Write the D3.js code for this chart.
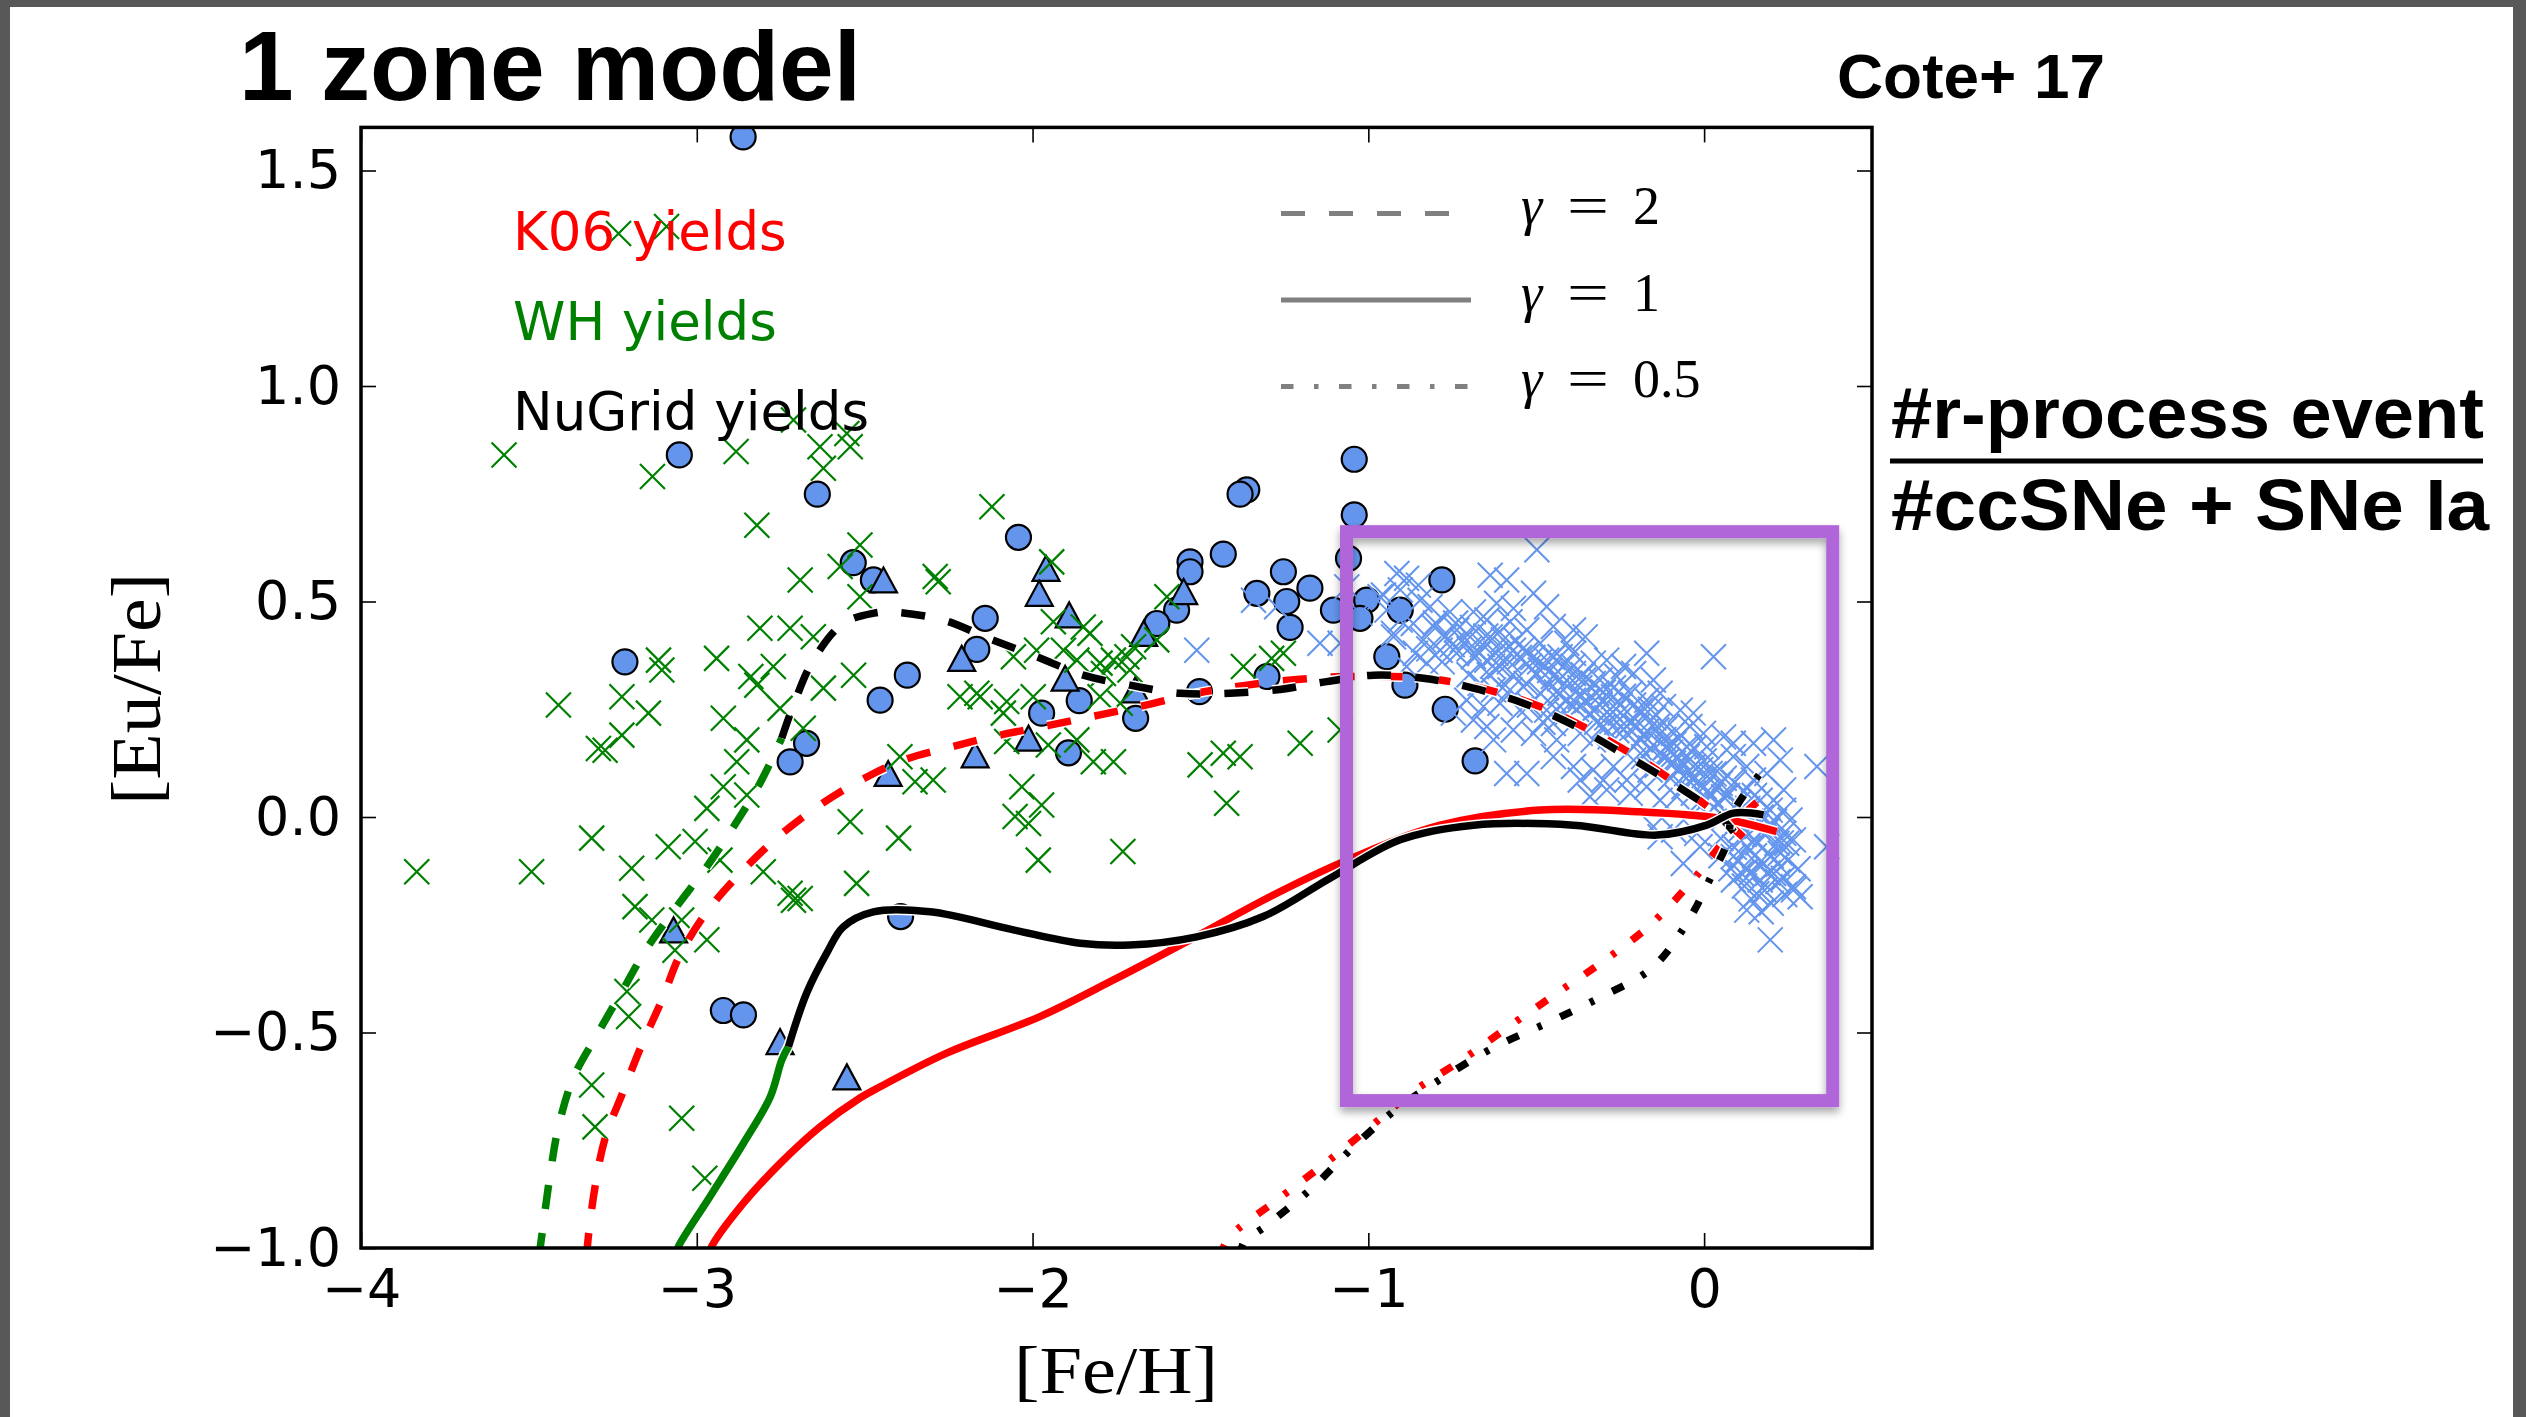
<!DOCTYPE html>
<html><head><meta charset="utf-8">
<script src="https://cdn.jsdelivr.net/npm/d3@7"></script>
<style>body{margin:0;background:#fff;} svg{display:block}</style>
</head><body>
<svg id="chart" width="2526" height="1417"></svg>
<script>
// ---------------- DATA ----------------
const xDomain = [-4, 0.5];
const yDomain = [-1, 1.6];
const xTicks = [-4, -3, -2, -1, 0];
const yTicks = [-1, -0.5, 0, 0.5, 1, 1.5];

// observational data: [Fe/H], [Eu/Fe]
const greenStars = [
 [-3.574,0.84],[-3.132,0.79],[-2.883,0.848],[-2.712,0.921],[-2.633,0.859],[-2.623,0.809],[-2.543,0.859],[-2.553,0.89],
 [-2.821,0.677],[-2.514,0.631],[-2.573,0.581],[-2.692,0.55],[-2.514,0.511],[-2.812,0.438],[-2.722,0.438],[-2.653,0.418],
 [-3.114,0.364],[-3.104,0.341],[-2.941,0.368],[-2.772,0.349],[-2.839,0.326],[-2.821,0.306],[-2.533,0.329],[-2.623,0.299],
 [-3.412,0.26],[-3.223,0.279],[-3.144,0.241],[-2.921,0.229],[-2.752,0.252],[-3.223,0.19],[-3.293,0.159],[-3.273,0.155],
 [-2.851,0.179],[-2.881,0.128],[-2.683,0.206],[-2.921,0.07],[-2.97,0.02],[-2.851,0.051],[-3.313,-0.049],[-3.085,-0.069],
 [-3.005,-0.057],[-2.931,-0.1],[-2.543,-0.011],[-3.834,-0.127],[-3.492,-0.127],[-3.194,-0.119],[-2.802,-0.127],[-2.524,-0.154],
 [-2.722,-0.177],[-2.712,-0.193],[-2.692,-0.189],[-3.184,-0.208],[-3.134,-0.239],[-3.045,-0.239],[-2.97,-0.285],[-3.065,-0.309],
 [-3.208,-0.405],[-3.203,-0.463],[-3.313,-0.622],[-3.303,-0.719],[-3.045,-0.699],[-2.976,-0.838],[-3.233,1.354],[-3.09,1.37],
 [-2.121,0.72],[-2.29,0.558],[-2.281,0.546],[-1.943,0.592],[-1.938,0.453],[-1.849,0.441],[-1.829,0.426],[-2.057,0.372],
 [-1.908,0.387],[-1.868,0.364],[-1.799,0.357],[-1.759,0.364],[-1.719,0.372],[-1.63,0.411],[-1.6,0.511],[-1.789,0.333],
 [-1.71,0.341],[-2.166,0.287],[-2.156,0.279],[-2.077,0.268],[-1.998,0.279],[-2.087,0.241],[-1.799,0.279],[-1.739,0.264],
 [-1.868,0.179],[-1.953,0.167],[-2.077,0.175],[-2.395,0.14],[-2.35,0.082],[-2.296,0.086],[-1.819,0.128],[-1.759,0.128],
 [-2.032,0.07],[-1.973,0.028],[-2.052,0.001],[-2.012,-0.015],[-2.399,-0.049],[-1.983,-0.1],[-1.731,-0.08],[-1.501,0.121],
 [-1.432,0.148],[-1.382,0.14],[-1.422,0.032],[-1.372,0.349],[-1.288,0.368],[-1.253,0.38],[-1.203,0.171],[-1.084,0.202],
 [-1.699,0.395],[-1.988,0.387],[-2.216,0.279]
];
const blueCircles = [
 [-2.862,1.578],[-3.052,0.84],[-2.641,0.749],[-2.534,0.59],[-2.474,0.55],[-3.214,0.36],[-2.454,0.271],[-2.673,0.171],[-2.722,0.128],
 [-2.042,0.649],[-1.042,0.83],[-1.362,0.759],[-1.382,0.749],[-1.042,0.701],[-1.432,0.61],[-1.531,0.592],[-1.531,0.569],[-1.253,0.569],
 [-1.174,0.531],[-1.332,0.519],[-1.243,0.5],[-1.233,0.44],[-1.104,0.48],[-1.059,0.6],[-1.005,0.503],[-1.025,0.461],[-0.945,0.372],
 [-1.571,0.48],[-1.63,0.449],[-2.141,0.461],[-2.166,0.389],[-2.373,0.329],[-1.861,0.27],[-1.973,0.241],[-1.693,0.229],[-1.893,0.149],
 [-1.503,0.291],[-1.302,0.326],[-0.781,0.55],[-0.905,0.48],[-0.891,0.306],[-0.771,0.25],[-0.682,0.13],
 [-2.921,-0.449],[-2.861,-0.459],[-2.393,-0.231]
];
const blueTriangles = [
 [-1.96,0.577],[-1.98,0.519],[-1.891,0.469],[-2.444,0.55],[-2.211,0.368],[-1.669,0.426],[-1.55,0.523],[-1.903,0.322],
 [-1.694,0.295],[-2.012,0.183],[-2.171,0.144],[-2.43,0.101],[-3.069,-0.262],[-2.752,-0.521],[-2.553,-0.603]
];
const diskStars = [
 [-0.498,0.62],[-0.637,0.561],[-0.588,0.55],[-0.886,0.554],[-0.851,0.538],
 [-0.508,0.519],[-0.469,0.488],[-0.618,0.496],[-0.568,0.484],[-0.955,0.515],[-0.905,0.527],[-0.846,0.503],[-0.816,0.488],[-0.757,0.476],[-0.687,0.476],
 [-0.647,0.457],[-0.578,0.453],[-0.528,0.434],[-0.449,0.442],[-0.389,0.434],[-0.354,0.418],[-0.905,0.457],[-0.866,0.449],[-0.806,0.442],[-0.737,0.434],
 [-0.697,0.418],[-0.637,0.418],[-0.598,0.411],[-0.488,0.403],[-0.409,0.403],[-0.925,0.418],[-0.836,0.411],
 [-0.171,0.38],[0.028,0.372],[-0.568,0.387],[-0.528,0.38],[-0.469,0.364],[-0.429,0.372],[-0.389,0.38],[-0.33,0.357],[-0.29,0.364],[-0.24,0.349],
 [-0.687,0.372],[-0.647,0.364],[-0.608,0.349],[-0.786,0.387],[-0.737,0.38],[-0.488,0.341],[-0.449,0.326],[-0.389,0.333],[-0.359,0.318],[-0.31,0.318],
 [-0.26,0.326],[-0.21,0.333],[-0.151,0.318],[-0.886,0.349],[-0.826,0.357],
 [-0.667,0.31],[-0.627,0.295],[-0.578,0.295],[-0.538,0.302],[-0.488,0.287],[-0.429,0.287],[-0.369,0.279],[-0.32,0.287],[-0.27,0.279],[-0.22,0.287],
 [-0.171,0.271],[-0.121,0.256],[-0.071,0.248],[-0.032,0.241],[-0.707,0.271],[-0.657,0.256],[-0.608,0.264],[-0.548,0.248],[-0.469,0.248],[-0.409,0.241],
 [-0.33,0.248],[-0.25,0.241],[-0.19,0.248],[-0.131,0.287],[-0.747,0.241],[-0.687,0.225],[-0.389,0.271],
 [-0.647,0.21],[-0.568,0.202],[-0.508,0.194],[-0.439,0.179],[-0.369,0.194],[-0.33,0.179],[-0.28,0.186],[-0.23,0.194],[-0.19,0.179],[-0.141,0.202],
 [-0.091,0.194],[-0.042,0.21],[-0.002,0.194],[0.058,0.186],[0.087,0.171],[0.147,0.171],[0.207,0.179],[-0.627,0.179],[-0.449,0.217],[-0.111,0.163],
 [-0.052,0.163],[0.008,0.163],
 [-0.449,0.14],[-0.389,0.117],[-0.33,0.109],[-0.27,0.117],[-0.21,0.132],[-0.161,0.109],[-0.091,0.125],[-0.032,0.117],[0.028,0.125],[0.087,0.14],
 [0.127,0.117],[0.187,0.101],[0.227,0.132],[0.336,0.117],[-0.588,0.101],[-0.528,0.101],[-0.369,0.086],[-0.30,0.086],[-0.23,0.086],[-0.052,0.101],
 [0.018,0.101],[0.048,0.078],[0.147,0.086],
 [-0.29,0.063],[-0.22,0.055],[-0.131,0.039],[-0.081,0.047],[-0.032,0.055],[0.008,0.039],[0.058,0.047],[0.167,0.039],[0.207,0.039],[0.237,0.063],
 [-0.34,0.047],[-0.171,0.07],[0.127,0.009],[0.197,0.016],[0.237,0.016],
 [-0.151,-0.022],[-0.091,-0.03],[-0.022,-0.038],[0.107,-0.03],[0.157,-0.022],[0.197,-0.015],[0.237,-0.038],[0.365,-0.069],[0.217,-0.061],[0.266,-0.053],[0.147,-0.053],
 [-0.062,-0.108],[-0.012,-0.069],[0.087,-0.092],[0.127,-0.123],[0.177,-0.108],[0.087,-0.146],[0.207,-0.131],[0.266,-0.162],[0.227,-0.084],
 [0.127,-0.216],[0.197,-0.285],[0.157,-0.178],[0.286,-0.185],
 [-1.511,0.387],[-1.144,0.403],[-1.084,0.403],[-1.342,0.503],[-1.273,0.488],[-1.064,0.534],[-1.025,0.473],[-0.965,0.511],[-0.945,0.48],[-0.925,0.426],[-0.915,0.565],
 [0.266,-0.169],[0.236,-0.142],[0.167,-0.146],[-0.131,-0.046],[0.246,-0.061],[0.256,-0.007],
 [-0.75,0.40],[-0.70,0.39],[-0.66,0.40],[-0.62,0.38],[-0.58,0.36],[-0.55,0.37],[-0.52,0.35],[-0.50,0.33],[-0.46,0.34],[-0.43,0.32],[-0.40,0.31],
 [-0.37,0.30],[-0.35,0.27],[-0.31,0.26],[-0.28,0.25],[-0.25,0.26],[-0.22,0.22],[-0.20,0.21],[-0.17,0.20],[-0.15,0.23],[-0.12,0.18],[-0.10,0.15],
 [-0.08,0.14],[-0.06,0.12],[-0.04,0.10],[-0.02,0.08],[0.00,0.07],[0.02,0.05],[0.04,0.03],[-0.30,0.21],[-0.26,0.20],[-0.44,0.25],[-0.48,0.22],
 [-0.52,0.26],[-0.60,0.30],[-0.64,0.33],[-0.70,0.33],[-0.78,0.36],[-0.82,0.39],[-0.86,0.38],[-0.18,0.14],[-0.14,0.12],[-0.10,0.09],[-0.06,0.07],
 [-0.02,0.03],[0.06,0.00],[0.10,-0.01],[0.12,-0.04],[0.09,-0.07],[0.05,-0.05],[0.15,-0.09],[0.18,-0.04],[0.20,-0.09],[0.10,-0.10],[0.14,-0.13],
 [0.18,-0.17],[0.20,-0.20],[0.12,-0.16],[0.16,-0.06],[0.22,-0.11],[0.05,-0.09],[0.08,-0.12],
 [-0.80,0.45],[-0.77,0.42],[-0.74,0.45],[-0.72,0.41],[-0.69,0.44],[-0.67,0.38],[-0.65,0.42],[-0.63,0.35],[-0.61,0.43],[-0.59,0.39],[-0.57,0.33],
 [-0.56,0.41],[-0.54,0.39],[-0.53,0.31],[-0.51,0.37],[-0.49,0.36],[-0.47,0.30],[-0.45,0.37],[-0.44,0.29],[-0.42,0.35],[-0.41,0.27],[-0.39,0.35],
 [-0.38,0.25],[-0.36,0.33],[-0.34,0.24],[-0.33,0.31],[-0.32,0.22],[-0.30,0.29],[-0.29,0.23],[-0.27,0.30],[-0.26,0.22],[-0.24,0.28],[-0.23,0.21],
 [-0.21,0.26],[-0.20,0.17],[-0.19,0.24],[-0.18,0.19],[-0.16,0.25],[-0.16,0.16],[-0.14,0.21],[-0.13,0.15],[-0.11,0.21],[-0.11,0.13],[-0.09,0.17],
 [-0.08,0.11],[-0.07,0.19],[-0.05,0.14],[-0.04,0.08],[-0.03,0.16],[-0.01,0.11],[0.00,0.13],[0.01,0.06],[0.03,0.10],[0.04,0.07],[0.06,0.09],
 [0.07,0.05],[0.09,0.08],[0.10,0.03],[0.12,0.06],[0.13,0.02],[0.15,0.05],[0.17,0.00],[0.19,-0.03],[0.21,-0.01],[0.23,-0.06],[0.13,-0.07],
 [0.16,-0.11],[0.19,-0.13],[0.11,-0.13],[0.14,-0.19],[0.17,-0.22],[0.24,-0.18],[0.22,-0.15],[0.25,-0.10],[0.28,-0.12]
];

// model tracks
const k06Gamma2FeH  = [-3.328,-3.323,-3.303,-3.273,-3.219,-3.164,-3.104,-3.05,-2.966,-2.871,-2.762,-2.648,-2.519,-2.385,-2.241,-2.097,-1.948,-1.799,-1.66,-1.511,-1.362,-1.213,-1.064,-0.786,-0.488,-0.22,-0.091,0.048,0.157];
const k06Gamma2EuFe = [-1.02,-0.974,-0.858,-0.745,-0.637,-0.529,-0.425,-0.32,-0.216,-0.131,-0.049,0.02,0.082,0.132,0.163,0.19,0.213,0.237,0.26,0.287,0.306,0.319,0.326,0.318,0.256,0.148,0.082,0.001,-0.077];
const k06Gamma1FeH  = [-2.97,-2.956,-2.861,-2.752,-2.633,-2.514,-2.454,-2.256,-1.978,-1.759,-1.531,-1.293,-1.084,-0.786,-0.488,-0.191,0.048,0.216];
const k06Gamma1EuFe = [-1.03,-0.997,-0.896,-0.804,-0.719,-0.652,-0.626,-0.548,-0.463,-0.378,-0.285,-0.185,-0.107,-0.019,0.016,0.012,-0.003,-0.034];
const k06Gamma05FeH  = [-1.44,-1.417,-1.273,-1.134,-1.005,-0.866,-0.722,-0.583,-0.439,-0.295,-0.161,-0.042,0.018,0.068,0.11,0.177];
const k06Gamma05EuFe = [-1.02,-0.978,-0.889,-0.807,-0.726,-0.637,-0.564,-0.487,-0.409,-0.332,-0.251,-0.154,-0.096,-0.046,0.0,0.047];
const whGamma2FeH  = [-3.47,-3.462,-3.437,-3.412,-3.368,-3.298,-3.223,-3.149,-3.06,-2.97,-2.891,-2.812,-2.747];
const whGamma2EuFe = [-1.02,-0.974,-0.831,-0.719,-0.606,-0.506,-0.405,-0.305,-0.208,-0.115,-0.023,0.078,0.183];
const whGamma1FeH  = [-3.06,-3.055,-2.961,-2.861,-2.781,-2.747,-2.727];
const whGamma1EuFe = [-1.01,-0.997,-0.881,-0.757,-0.649,-0.564,-0.533];
const nuGamma2FeH  = [-2.747,-2.712,-2.653,-2.564,-2.472,-2.424,-2.266,-2.132,-1.988,-1.849,-1.71,-1.561,-1.412,-1.263,-1.124,-0.985,-0.836,-0.687,-0.538,-0.389,-0.26,-0.141,-0.032,0.038,0.107];
const nuGamma2EuFe = [0.183,0.26,0.364,0.449,0.473,0.476,0.457,0.415,0.372,0.329,0.306,0.287,0.287,0.296,0.314,0.329,0.322,0.299,0.264,0.213,0.155,0.101,0.047,0.009,-0.053];
const nuGamma1FeH  = [-2.727,-2.673,-2.613,-2.564,-2.474,-2.305,-2.057,-1.858,-1.71,-1.511,-1.313,-1.114,-0.905,-0.687,-0.389,-0.141,0.008,0.087,0.177];
const nuGamma1EuFe = [-0.533,-0.409,-0.316,-0.255,-0.22,-0.22,-0.262,-0.293,-0.297,-0.278,-0.231,-0.142,-0.053,-0.019,-0.019,-0.042,-0.019,0.009,0.005];
const nuGamma05FeH  = [-1.38,-1.372,-1.302,-1.168,-1.049,-0.92,-0.766,-0.622,-0.459,-0.305,-0.156,-0.052,0.028,0.068,0.086,0.167];
const nuGamma05EuFe = [-1.02,-0.989,-0.947,-0.861,-0.769,-0.68,-0.599,-0.533,-0.475,-0.417,-0.351,-0.247,-0.127,-0.061,0.009,0.101];

const yieldLabels = ["K06 yields", "WH yields", "NuGrid yields"];
const yieldColors = ["#ff0000", "#008000", "#000000"];
const gammaLabels = ["2", "1", "0.5"];
const boxFeH = [-1.065, 0.383];
const boxEuFe = [-0.658, 0.662];

// ---------------- DRAW ----------------
const W = 2526, H = 1417;
const svg = d3.select("#chart");
const L = 361, R = 1872, T = 127.4, B = 1248;
const x = d3.scaleLinear().domain(xDomain).range([L, R]);
const y = d3.scaleLinear().domain(yDomain).range([B, T]);

svg.append("rect").attr("width", W).attr("height", H).attr("fill", "#585858");
svg.append("rect").attr("x", 10).attr("y", 7).attr("width", 2503).attr("height", H - 7).attr("fill", "#fff");

const defs = svg.append("defs");
defs.append("clipPath").attr("id", "plotClip").append("rect")
  .attr("x", L).attr("y", T).attr("width", R - L).attr("height", B - T);
const f = defs.append("filter").attr("id", "shadow").attr("x", "-10%").attr("y", "-10%").attr("width", "120%").attr("height", "120%");
f.append("feDropShadow").attr("dx", 0).attr("dy", 5).attr("stdDeviation", 4)
  .attr("flood-color", "#000").attr("flood-opacity", 0.35);

const plot = svg.append("g").attr("clip-path", "url(#plotClip)");

const crossPath = h => `M${-h},${-h}L${h},${h}M${-h},${h}L${h},${-h}`;
const triPath = (w, h) => `M0,${-h}L${w},${h}L${-w},${h}Z`;

// blue circles & triangles
plot.append("g").selectAll("circle").data(blueCircles).join("circle")
  .attr("cx", d => x(d[0])).attr("cy", d => y(d[1])).attr("r", 12.5)
  .attr("fill", "#6495ed").attr("stroke", "#000").attr("stroke-width", 2.2);
plot.append("g").selectAll("path").data(blueTriangles).join("path")
  .attr("transform", d => `translate(${x(d[0])},${y(d[1])})`)
  .attr("d", triPath(13.5, 12.5))
  .attr("fill", "#6495ed").attr("stroke", "#000").attr("stroke-width", 2.2);

// crosses
plot.append("g").selectAll("path").data(greenStars).join("path")
  .attr("transform", d => `translate(${x(d[0])},${y(d[1])})`)
  .attr("d", crossPath(12.5)).attr("fill", "none")
  .attr("stroke", "#008000").attr("stroke-width", 2.2);
plot.append("g").selectAll("path").data(diskStars).join("path")
  .attr("transform", d => `translate(${x(d[0])},${y(d[1])})`)
  .attr("d", crossPath(12.5)).attr("fill", "none")
  .attr("stroke", "#6495ed").attr("stroke-width", 2);

// model lines
const dashed = "24,24", dashDot = "12.5,20.5,4.5,20.5";
const zip = (a, b) => a.map((v, i) => [v, b[i]]);
const lineGen = d3.line().x(d => x(d[0])).y(d => y(d[1])).curve(d3.curveCatmullRom.alpha(0.5));
const tracks = [
  {xs: k06Gamma2FeH, ys: k06Gamma2EuFe, c: yieldColors[0], dash: dashed},
  {xs: k06Gamma1FeH, ys: k06Gamma1EuFe, c: yieldColors[0], dash: null},
  {xs: k06Gamma05FeH, ys: k06Gamma05EuFe, c: yieldColors[0], dash: dashDot},
  {xs: whGamma2FeH, ys: whGamma2EuFe, c: yieldColors[1], dash: dashed},
  {xs: whGamma1FeH, ys: whGamma1EuFe, c: yieldColors[1], dash: null},
  {xs: nuGamma2FeH, ys: nuGamma2EuFe, c: yieldColors[2], dash: dashed},
  {xs: nuGamma1FeH, ys: nuGamma1EuFe, c: yieldColors[2], dash: null},
  {xs: nuGamma05FeH, ys: nuGamma05EuFe, c: yieldColors[2], dash: dashDot}
];
const lines = plot.append("g");
tracks.forEach(t => {
  const pts = zip(t.xs, t.ys);
  lines.append("path").attr("d", lineGen(pts)).attr("fill", "none")
    .attr("stroke", "#fff").attr("stroke-width", 10.5)
    .attr("stroke-dasharray", t.dash);
  lines.append("path").attr("d", lineGen(pts)).attr("fill", "none")
    .attr("stroke", t.c).attr("stroke-width", 7.5)
    .attr("stroke-dasharray", t.dash);
});

// axes
function styleAxis(g) {
  g.select(".domain").remove();
  g.selectAll(".tick line").attr("stroke", "#000").attr("stroke-width", 1.6);
  g.selectAll(".tick text").attr("fill", "#000")
    .style("font-family", "'DejaVu Sans'").style("font-size", "54px");
}
svg.append("g").attr("transform", `translate(0,${B})`)
  .call(d3.axisBottom(x).tickValues(xTicks).tickFormat(d3.format("d"))
    .tickSizeInner(-15).tickSizeOuter(0).tickPadding(21)).call(styleAxis);
svg.append("g").attr("transform", `translate(0,${T})`)
  .call(d3.axisTop(x).tickValues(xTicks).tickFormat("")
    .tickSizeInner(-15).tickSizeOuter(0)).call(styleAxis);
svg.append("g").attr("transform", `translate(${L},0)`)
  .call(d3.axisLeft(y).tickValues(yTicks).tickFormat(d3.format(".1f"))
    .tickSizeInner(-15).tickSizeOuter(0).tickPadding(20)).call(styleAxis);
svg.append("g").attr("transform", `translate(${R},0)`)
  .call(d3.axisRight(y).tickValues(yTicks).tickFormat("")
    .tickSizeInner(-15).tickSizeOuter(0)).call(styleAxis);

svg.append("rect").attr("x", L).attr("y", T).attr("width", R - L).attr("height", B - T)
  .attr("fill", "none").attr("stroke", "#000").attr("stroke-width", 3.5);

// axis labels
svg.append("text").attr("x", 1116).attr("y", 1393).attr("text-anchor", "middle")
  .attr("textLength", 204).attr("lengthAdjust", "spacingAndGlyphs")
  .style("font-family", "'Liberation Serif'").style("font-size", "68px").text("[Fe/H]");
svg.append("text").attr("transform", "translate(160,689) rotate(-90)").attr("text-anchor", "middle")
  .attr("textLength", 232).attr("lengthAdjust", "spacingAndGlyphs")
  .style("font-family", "'Liberation Serif'").style("font-size", "70px").text("[Eu/Fe]");

// yields legend
svg.append("g").selectAll("text").data(yieldLabels).join("text")
  .attr("x", 513).attr("y", (d, i) => 250 + i * 90)
  .attr("fill", (d, i) => yieldColors[i])
  .style("font-family", "'DejaVu Sans'").style("font-size", "53px").text(d => d);

// gamma legend
const gDash = [dashed, null, dashDot];
const gl = svg.append("g");
gammaLabels.forEach((lab, i) => {
  const cy = 213.5 + i * 86.5;
  gl.append("line").attr("x1", 1281).attr("x2", 1471).attr("y1", cy).attr("y2", cy)
    .attr("stroke", "#808080").attr("stroke-width", 5).attr("stroke-dasharray", gDash[i]);
  const t = gl.append("text").attr("y", cy + 10.5)
    .style("font-family", "'Liberation Serif'").style("font-size", "54px").attr("fill", "#000");
  t.append("tspan").attr("x", 1521).style("font-style", "italic").text("γ");
  t.append("tspan").attr("x", 1567).attr("textLength", 42).attr("lengthAdjust", "spacingAndGlyphs").text("=");
  t.append("tspan").attr("x", 1633).text(lab);
});

// purple box
svg.append("rect")
  .attr("x", x(boxFeH[0])).attr("y", y(boxEuFe[1]))
  .attr("width", x(boxFeH[1]) - x(boxFeH[0])).attr("height", y(boxEuFe[0]) - y(boxEuFe[1]))
  .attr("fill", "none").attr("stroke", "#b066d8").attr("stroke-width", 13)
  .attr("filter", "url(#shadow)");

// titles
svg.append("text").attr("x", 239).attr("y", 100)
  .attr("textLength", 622).attr("lengthAdjust", "spacingAndGlyphs")
  .style("font-family", "'Liberation Sans'").style("font-weight", "bold").style("font-size", "98px")
  .text("1 zone model");
svg.append("text").attr("x", 1837).attr("y", 98)
  .attr("textLength", 268).attr("lengthAdjust", "spacingAndGlyphs")
  .style("font-family", "'Liberation Sans'").style("font-weight", "bold").style("font-size", "63px")
  .text("Cote+ 17");
svg.append("text").attr("x", 1891).attr("y", 438)
  .attr("textLength", 593).attr("lengthAdjust", "spacingAndGlyphs")
  .style("font-family", "'Liberation Sans'").style("font-weight", "bold").style("font-size", "72px")
  .text("#r-process event");
svg.append("line").attr("x1", 1890).attr("x2", 2483).attr("y1", 461).attr("y2", 461)
  .attr("stroke", "#000").attr("stroke-width", 5);
svg.append("text").attr("x", 1891).attr("y", 530)
  .attr("textLength", 598).attr("lengthAdjust", "spacingAndGlyphs")
  .style("font-family", "'Liberation Sans'").style("font-weight", "bold").style("font-size", "72px")
  .text("#ccSNe + SNe Ia");
</script>
</body></html>
